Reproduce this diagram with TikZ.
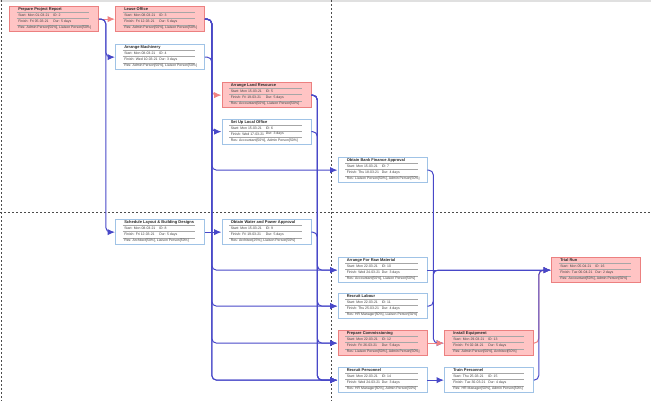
\documentclass[tikz,border=0pt]{standalone}
\usepackage{fontspec}
\setmainfont{Liberation Sans}
\usetikzlibrary{arrows.meta}

\definecolor{lnk}{RGB}{72,72,200}
\definecolor{crit}{RGB}{240,130,130}
\definecolor{critfill}{RGB}{255,196,196}
\definecolor{critline}{RGB}{236,128,128}
\definecolor{normline}{RGB}{160,195,230}

\tikzset{
  redbox/.style={draw=critline, fill=critfill, line width=0.6pt, minimum width=66.75pt, minimum height=19.1pt, inner sep=0pt},
  bluebox/.style={draw=normline, fill=white, line width=0.6pt, minimum width=66.75pt, minimum height=19.1pt, inner sep=0pt},
  ttl/.style={anchor=west, inner sep=0pt, text=black!85, font=\fontsize{3}{3.5}\selectfont\bfseries},
  txt/.style={anchor=west, inner sep=0pt, text=black!75, font=\fontsize{2.6}{3}\selectfont},
  sep/.style={draw=black!35, line width=0.3pt},
  link/.style={draw=lnk, line width=0.75pt, rounded corners=3.5pt, -{Latex[length=5.5pt,width=4.6pt]}},
  critlink/.style={link, draw=crit},
  pagebreak/.style={draw=black!70, line width=0.6pt, dash pattern=on 1.5pt off 1.5pt}
}

% Блок задачи
\newcommand{\taskbox}[9][bluebox]{%
  \begin{scope}[shift={#3}]
    \node[#1, anchor=north west] (#2) at (0,0) {};
    \node[ttl] at (9,3.5) {#4};
    \draw[sep] (7.5,6.5) -- (80,6.5);
    \node[txt] at (9,9.5) {Start: #5};
    \node[txt] at (44,9.5) {ID: #6};
    \draw[sep] (7.5,12.5) -- (80,12.5);
    \node[txt] at (9,15.5) {Finish: #7};
    \node[txt] at (44,15.5) {Dur: #8};
    \draw[sep] (7.5,19) -- (80,19);
    \node[txt] at (9,22) {Res: #9};
  \end{scope}}

\begin{document}
\begin{tikzpicture}[x=0.75pt, y=-0.75pt]
        \useasboundingbox (0,0) rectangle (651,401);
        \fill[black!12] (0,0) rectangle (651,1.5);

        % Разрывы страниц
        \draw[pagebreak] (1.5,0) -- (1.5,401);
        \draw[pagebreak] (331,0) -- (331,401);
        \draw[pagebreak] (0,212) -- (651,212);

        % Задачи
        \taskbox[redbox]{b1}{(9,6)}{Prepare Project Report}{Mon 01-03-21}{2}{Fri 05-03-21}{5 days}{Admin Person[50\%], Liaison Person[50\%]}
        \taskbox[redbox]{b2}{(115,6)}{Lease Office}{Mon 08-03-21}{3}{Fri 12-03-21}{5 days}{Admin Person[50\%], Liaison Person[50\%]}
        \taskbox{b3}{(115,44)}{Arrange Machinery}{Mon 08-03-21}{4}{Wed 10-03-21}{3 days}{Admin Person[50\%], Liaison Person[50\%]}
        \taskbox[redbox]{b4}{(221.5,82)}{Arrange Land Resource}{Mon 15-03-21}{5}{Fri 19-03-21}{5 days}{Accountant[50\%], Liaison Person[50\%]}
        \taskbox{b5}{(221.5,118.5)}{Set Up Local Office}{Mon 15-03-21}{6}{Wed 17-03-21}{3 days}{Accountant[50\%], Admin Person[50\%]}
        \taskbox{b6}{(337.5,157)}{Obtain Bank Finance Approval}{Mon 15-03-21}{7}{Thu 18-03-21}{4 days}{Liaison Person[50\%], Admin Person[50\%]}
        \taskbox{b7}{(115,219)}{Schedule Layout \& Building Designs}{Mon 08-03-21}{8}{Fri 12-03-21}{5 days}{Architect[50\%], Liaison Person[50\%]}
        \taskbox{b8}{(221.5,219)}{Obtain Water and Power Approval}{Mon 15-03-21}{9}{Fri 19-03-21}{5 days}{Architect[25\%], Liaison Person[50\%]}
        \taskbox{b9}{(337.5,257)}{Arrange For Raw Material}{Mon 22-03-21}{10}{Wed 24-03-21}{3 days}{Accountant[50\%], Liaison Person[50\%]}
        \taskbox{b10}{(337.5,293)}{Recruit Labour}{Mon 22-03-21}{11}{Thu 25-03-21}{4 days}{HR Manager[50\%], Liaison Person[50\%]}
        \taskbox[redbox]{b11}{(337.5,330)}{Prepare Commissioning}{Mon 22-03-21}{12}{Fri 26-03-21}{5 days}{Liaison Person[50\%], Admin Person[50\%]}
        \taskbox[redbox]{b12}{(444,330)}{Install Equipment}{Mon 29-03-21}{13}{Fri 02-04-21}{5 days}{Admin Person[50\%], Architect[50\%]}
        \taskbox{b13}{(337.5,367)}{Recruit Personnel}{Mon 22-03-21}{14}{Wed 24-03-21}{3 days}{HR Manager[50\%], Admin Person[50\%]}
        \taskbox{b14}{(444,367)}{Train Personnel}{Thu 25-03-21}{15}{Tue 30-03-21}{4 days}{HR Manager[50\%], Admin Person[50\%]}
        \taskbox[redbox]{b15}{(551,257)}{Trial Run}{Mon 05-04-21}{16}{Tue 06-04-21}{2 days}{Accountant[50\%], Admin Person[50\%]}

        % Критический путь (под синими связями)
        \draw[critlink] (b1.east) -- (b2.west);
        \draw[critlink] (b2.east) -- ++(7,0) |- (b4.west);
        \draw[critlink] (b12.east) -- ++(5,0) |- (b15.west);

        % Связи
        \draw[link] (b1.east) -- ++(7,0) |- (b3.west);
        \draw[link] (b1.east) -- ++(7,0) |- (b7.west);
        \foreach \t in {b5,b6,b9,b10,b11,b13}
            \draw[link] (b2.east) -- ++(7,0) |- (\t.west);
        \draw[link] (b3.east) -- ++(7,0) |- (b13.west);
        \draw[link] (b7.east) -- (b8.west);
        \foreach \s in {b4,b5,b8}
            \draw[link] (\s.east) -- ++(6,0) |- (b13.west);
        \foreach \t in {b9,b10,b11}
            \draw[link] (b4.east) -- ++(6,0) |- (\t.west);
        \draw[link] (b6.east) -- ++(6,0) |- (b12.west);
        \draw[link] (b9.east) -- (b15.west);
        \draw[link] (b10.east) -- ++(6,0) |- (b15.west);
        \draw[link] (b13.east) -- (b14.west);
        \draw[link] (b14.east) -- ++(5,0) |- (b15.west);

        % Критическая связь поверх
        \draw[critlink] (b11.east) -- (b12.west);
\end{tikzpicture}
\end{document}
